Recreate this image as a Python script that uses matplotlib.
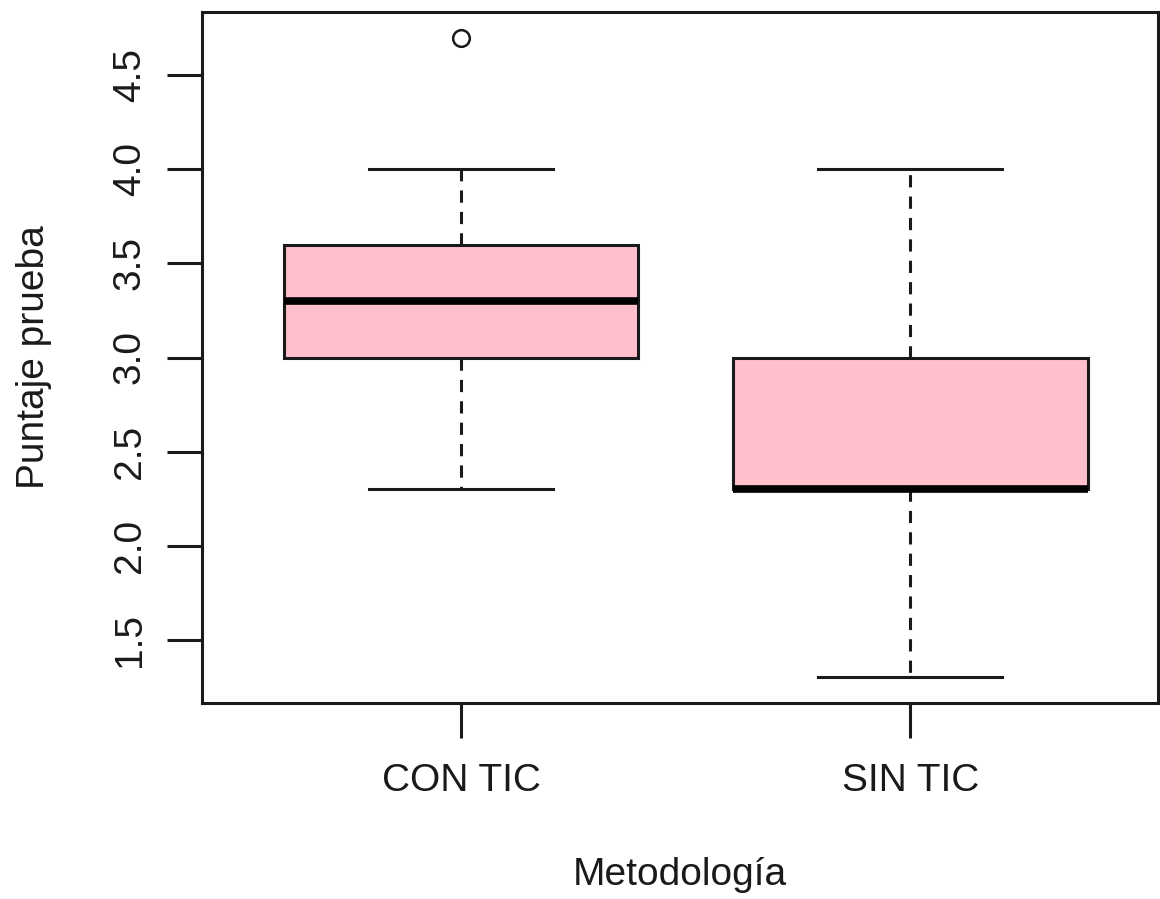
import matplotlib.pyplot as plt

# Box statistics
groups = ["CON TIC", "SIN TIC"]
whisker_low = [2.3, 1.3]
q1 = [3.0, 2.3]
medians = [3.3, 2.3]
q3 = [3.6, 3.0]
whisker_high = [4.0, 4.0]
outliers = [[4.7], []]

y_ticks = [1.5, 2.0, 2.5, 3.0, 3.5, 4.0, 4.5]


def main():
    plt.rcParams["font.family"] = ["Liberation Sans", "DejaVu Sans"]
    fig = plt.figure(figsize=(11.6, 8.99), dpi=100)
    ax = fig.add_axes([202 / 1160, 1 - 703 / 899, 956 / 1160, 691 / 899])

    stats = []
    for i, name in enumerate(groups):
        stats.append({
            "label": name,
            "whislo": whisker_low[i],
            "q1": q1[i],
            "med": medians[i],
            "q3": q3[i],
            "whishi": whisker_high[i],
            "fliers": outliers[i],
        })

    ax.bxp(
        stats,
        positions=[1, 2],
        widths=0.79,
        capwidths=0.41,
        patch_artist=True,
        boxprops=dict(facecolor="#ffc0cb", edgecolor="#1a1a1a", linewidth=2.2),
        medianprops=dict(color="black", linewidth=5.5, solid_capstyle="butt"),
        whiskerprops=dict(color="#1a1a1a", linewidth=2.2, linestyle=(0, (4, 3))),
        capprops=dict(color="#1a1a1a", linewidth=2.2),
        flierprops=dict(marker="o", markersize=12, markerfacecolor="none",
                        markeredgecolor="#1a1a1a", markeredgewidth=1.8),
    )

    ax.set_xlim(0.423, 2.552)
    ax.set_ylim(1.164, 4.836)
    ax.set_yticks(y_ticks)
    ax.set_yticklabels([f"{v:.1f}" for v in y_ticks], rotation=90, va="center")
    ax.set_xticks([1, 2])
    ax.set_xticklabels(groups)
    ax.tick_params(axis="both", labelsize=28, length=25, width=2.2,
                   color="#1a1a1a", labelcolor="#1a1a1a")
    ax.tick_params(axis="x", pad=18)
    ax.tick_params(axis="y", pad=14)
    for spine in ax.spines.values():
        spine.set_linewidth(2.2)
        spine.set_color("#1a1a1a")

    ax.set_xlabel("Metodología", fontsize=28, color="#1a1a1a", labelpad=42)
    ax.set_ylabel("Puntaje prueba", fontsize=28, color="#1a1a1a", labelpad=43)

    fig.savefig("out.png", dpi=100)


if __name__ == "__main__":
    main()
